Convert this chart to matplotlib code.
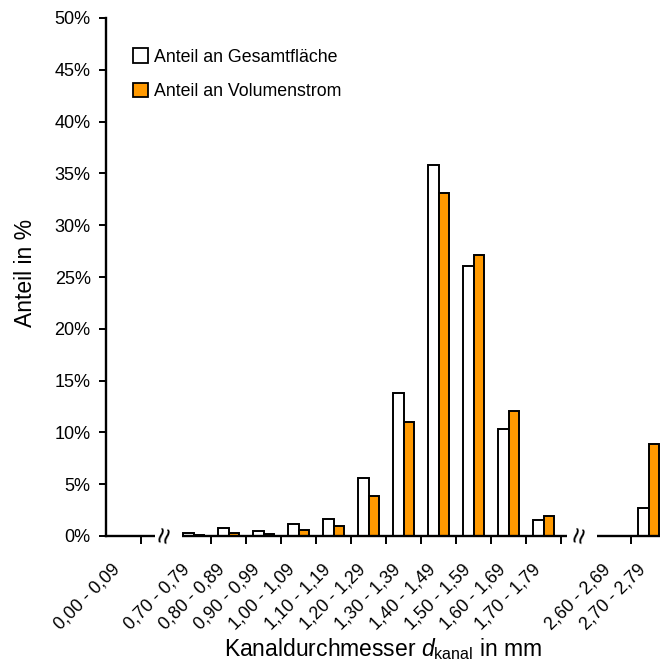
import numpy as np
import matplotlib
matplotlib.use("Agg")
import matplotlib.pyplot as plt
from matplotlib.patches import Patch, Rectangle
import matplotlib.transforms as mtransforms

plt.rcParams['font.family'] = ['Liberation Sans', 'DejaVu Sans']
plt.rcParams['mathtext.fontset'] = 'custom'
plt.rcParams['mathtext.rm'] = 'Liberation Sans'
plt.rcParams['mathtext.it'] = 'Liberation Sans:italic'

# Klassen (leere Einträge = Achsenunterbrechung)
klassen = ['0,00 - 0,09', '', '0,70 - 0,79', '0,80 - 0,89', '0,90 - 0,99',
           '1,00 - 1,09', '1,10 - 1,19', '1,20 - 1,29', '1,30 - 1,39',
           '1,40 - 1,49', '1,50 - 1,59', '1,60 - 1,69', '1,70 - 1,79', '',
           '2,60 - 2,69', '2,70 - 2,79']
# Anteile in %
flaeche = [0.0, 0.0, 0.26, 0.74, 0.48, 1.19, 1.64, 5.6, 13.8, 35.8, 26.06,
           10.36, 1.54, 0.0, 0.0, 2.67]
volumen = [0.0, 0.0, 0.1, 0.26, 0.22, 0.57, 0.98, 3.86, 11.0, 33.1, 27.1,
           12.1, 1.96, 0.0, 0.0, 8.88]

fig = plt.figure(figsize=(6.6, 6.66), dpi=100)
ax = fig.add_axes([106/660, 130/666, 560/660, 518/666])

x = np.arange(len(klassen))
breite = 0.3
ax.bar(x - breite/2, flaeche, breite, color='white', edgecolor='black', linewidth=1.4,
       label='Anteil an Gesamtfläche')
ax.bar(x + breite/2, volumen, breite, color='#FF9900', edgecolor='black', linewidth=1.4,
       label='Anteil an Volumenstrom')

ax.set_xlim(-0.5, len(klassen) - 0.5)
ax.set_ylim(0, 50)
ax.set_yticks(np.arange(0, 51, 5))
ax.set_yticklabels([f'{v}%' for v in range(0, 51, 5)])

ax.set_xticks(x)
ax.set_xticklabels(klassen, rotation=45, ha='right', rotation_mode='anchor')
ax.tick_params(axis='x', which='major', length=0, pad=12, labelsize=12.8)
# Beschriftungen etwas nach links unten schieben
versatz = mtransforms.ScaledTranslation(-12/100, -8/100, fig.dpi_scale_trans)
for lab in ax.get_xticklabels():
    lab.set_transform(lab.get_transform() + versatz)

grenzen = [0.5] + list(np.arange(2.5, 13, 1.0)) + [14.5]
ax.set_xticks(grenzen, minor=True)
ax.tick_params(axis='x', which='minor', length=6, width=1.4, direction='out')
ax.tick_params(axis='y', length=5, width=1.4, direction='out', pad=6, labelsize=13)

for s in ['top', 'right']:
    ax.spines[s].set_visible(False)
for s in ['left', 'bottom']:
    ax.spines[s].set_linewidth(1.7)

# Achsenunterbrechungen
trans = mtransforms.blended_transform_factory(ax.transData, ax.transAxes)
for x0, x1, xm in [(0.9, 1.67, 1.2), (12.68, 13.53, 13.07)]:
    ax.add_patch(Rectangle((x0, -0.02), x1 - x0, 0.04, transform=trans,
                           facecolor='white', edgecolor='none', clip_on=False, zorder=5))
    ax.text(xm, 0.0, '≈', transform=trans, rotation=78, ha='center', va='center',
            fontsize=21, zorder=6, clip_on=False)

ax.set_ylabel('Anteil in %', fontsize=16.5)
ax.yaxis.set_label_coords((37 - 106) / 560, (536 - 273) / 518)
ax.set_xlabel(r'Kanaldurchmesser $d_{\mathrm{kanal}}$ in mm', fontsize=16.5)
ax.xaxis.set_label_coords((383 - 106) / 560, -(636 - 536) / 518)

handles = [Patch(facecolor='white', edgecolor='black', linewidth=1.3),
           Patch(facecolor='#FF9900', edgecolor='black', linewidth=1.3)]
ax.legend(handles, ['Anteil an Gesamtfläche', 'Anteil an Volumenstrom'],
          loc='upper left', bbox_to_anchor=(0.035, 0.955), frameon=False,
          fontsize=12.8, handlelength=0.85, handleheight=0.85, handletextpad=0.35,
          labelspacing=0.95, borderaxespad=0)

fig.savefig('out.png', dpi=100)
